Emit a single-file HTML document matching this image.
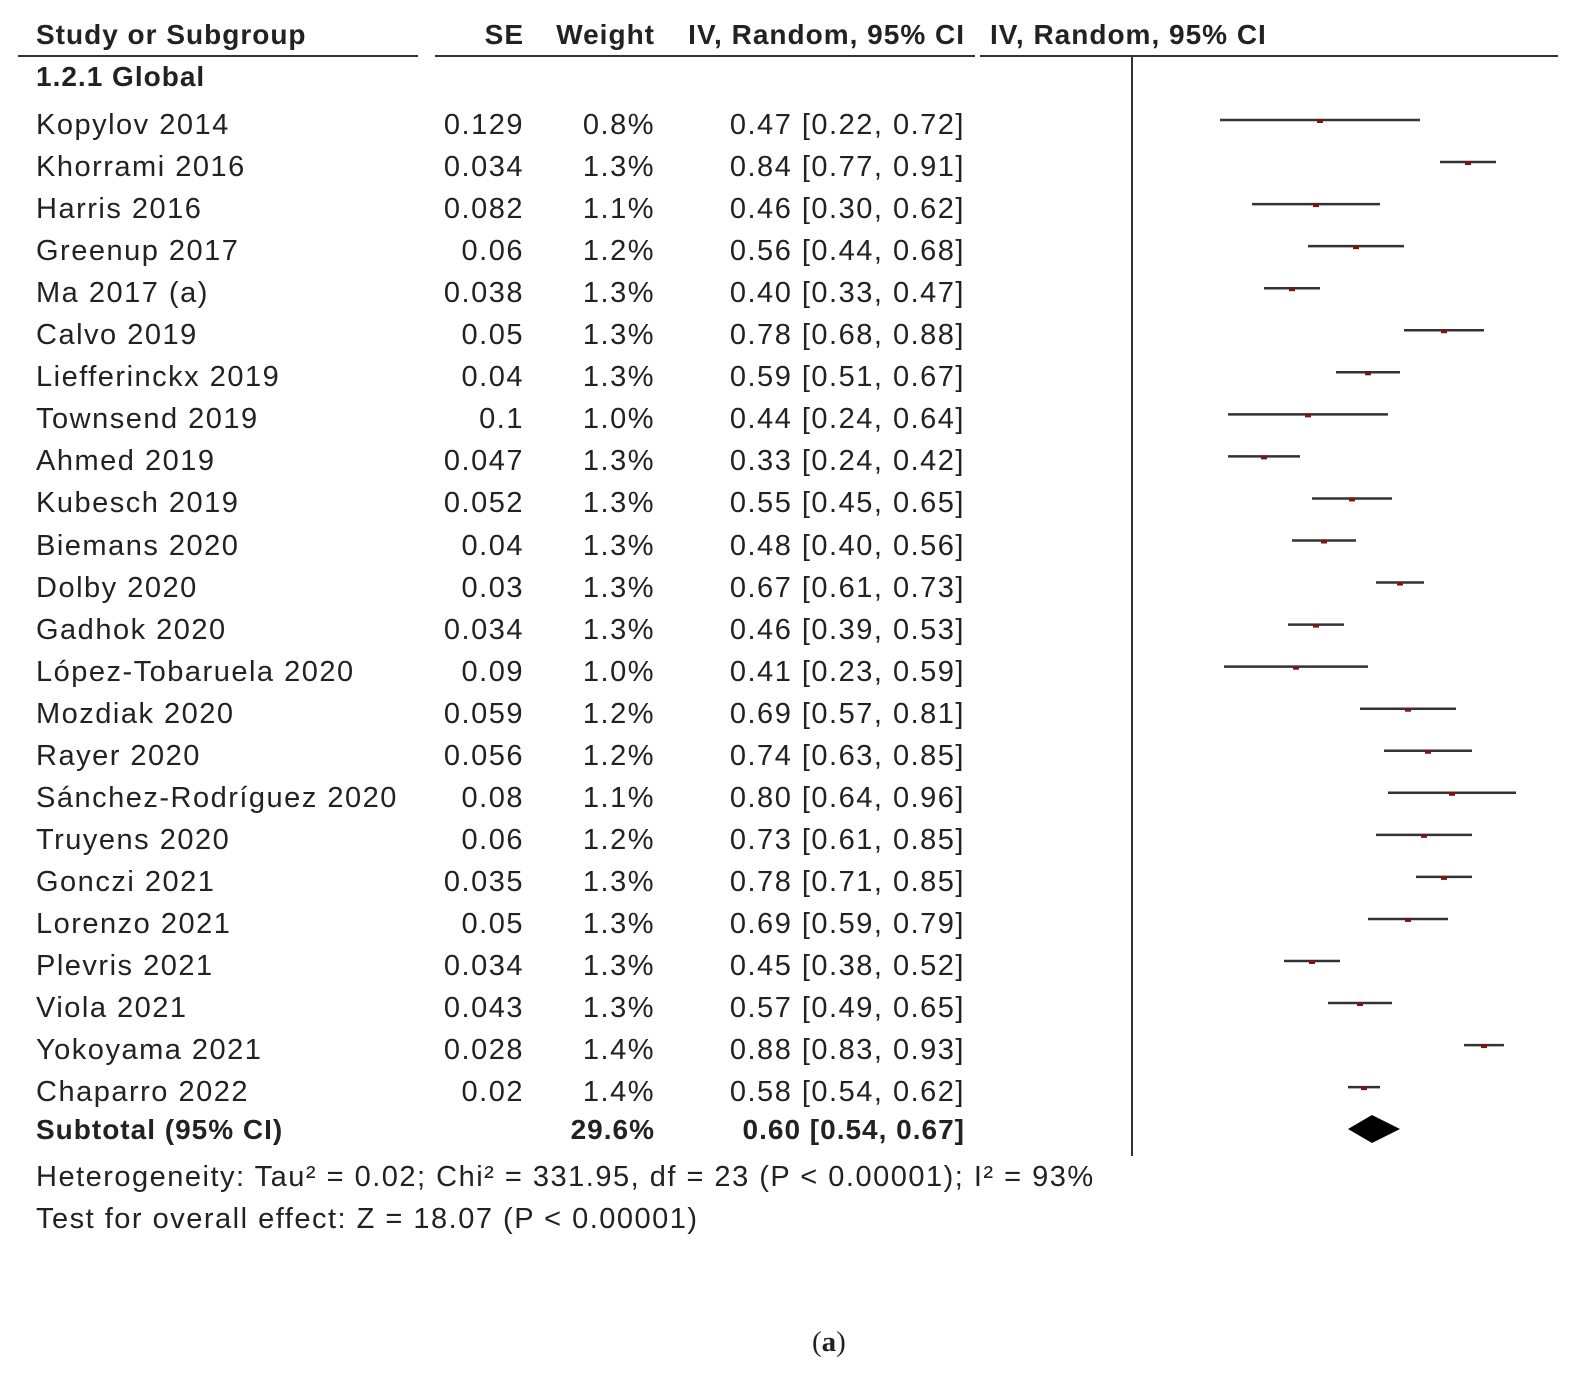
<!DOCTYPE html>
<html><head><meta charset="utf-8"><style>
body{margin:0;background:#fff;}
#wrap{position:relative;width:1586px;height:1386px;font-family:"Liberation Sans",Arial,sans-serif;color:#222;font-size:29px;letter-spacing:1.5px;}
.t{position:absolute;white-space:nowrap;line-height:32px;}
.b{font-weight:bold;font-size:28px;letter-spacing:1px;}
.r{text-align:right;}
</style></head><body>
<div id="wrap">
<svg id="plot" width="1586" height="1386" style="position:absolute;left:0;top:0"></svg>
<div class="t b" style="left:36px;top:19px">Study or Subgroup</div>
<div class="t b r" style="left:424px;width:100px;top:19px">SE</div>
<div class="t b r" style="left:535px;width:120px;top:19px">Weight</div>
<div class="t b r" style="left:615px;width:350px;top:19px">IV, Random, 95% CI</div>
<div class="t b" style="left:990px;top:19px">IV, Random, 95% CI</div>
<div class="t b" style="left:36px;top:61px">1.2.1 Global</div>
<div id="rows"></div>
<div class="t b" style="left:36px;top:1114px">Subtotal (95% CI)</div>
<div class="t b r" style="left:535px;width:120px;top:1114px">29.6%</div>
<div class="t b r" style="left:615px;width:350px;top:1114px">0.60 [0.54, 0.67]</div>
<div class="t" style="left:36px;top:1161px">Heterogeneity: Tau² = 0.02; Chi² = 331.95, df = 23 (P &lt; 0.00001); I² = 93%</div>
<div class="t" style="left:36px;top:1203px">Test for overall effect: Z = 18.07 (P &lt; 0.00001)</div>
<div class="t" style="left:812px;top:1326px;font-family:'Liberation Serif',serif;letter-spacing:0;">(<b>a</b>)</div>
</div>
<script>
const studies=["Kopylov 2014","Khorrami 2016","Harris 2016","Greenup 2017","Ma 2017 (a)","Calvo 2019","Liefferinckx 2019","Townsend 2019","Ahmed 2019","Kubesch 2019","Biemans 2020","Dolby 2020","Gadhok 2020","López-Tobaruela 2020","Mozdiak 2020","Rayer 2020","Sánchez-Rodríguez 2020","Truyens 2020","Gonczi 2021","Lorenzo 2021","Plevris 2021","Viola 2021","Yokoyama 2021","Chaparro 2022"];
const se=["0.129","0.034","0.082","0.06","0.038","0.05","0.04","0.1","0.047","0.052","0.04","0.03","0.034","0.09","0.059","0.056","0.08","0.06","0.035","0.05","0.034","0.043","0.028","0.02"];
const weight=["0.8%","1.3%","1.1%","1.2%","1.3%","1.3%","1.3%","1.0%","1.3%","1.3%","1.3%","1.3%","1.3%","1.0%","1.2%","1.2%","1.1%","1.2%","1.3%","1.3%","1.3%","1.3%","1.4%","1.4%"];
const est=[0.47,0.84,0.46,0.56,0.40,0.78,0.59,0.44,0.33,0.55,0.48,0.67,0.46,0.41,0.69,0.74,0.80,0.73,0.78,0.69,0.45,0.57,0.88,0.58];
const lo=[0.22,0.77,0.30,0.44,0.33,0.68,0.51,0.24,0.24,0.45,0.40,0.61,0.39,0.23,0.57,0.63,0.64,0.61,0.71,0.59,0.38,0.49,0.83,0.54];
const hi=[0.72,0.91,0.62,0.68,0.47,0.88,0.67,0.64,0.42,0.65,0.56,0.73,0.53,0.59,0.81,0.85,0.96,0.85,0.85,0.79,0.52,0.65,0.93,0.62];
const subtotal=[0.60,0.54,0.67];
const X=v=>1132+v*400;
const Y=i=>120+i*42.05;
const svg=document.getElementById('plot');
const NS='http://www.w3.org/2000/svg';
function mk(tag,attrs){const e=document.createElementNS(NS,tag);for(const k in attrs)e.setAttribute(k,attrs[k]);svg.appendChild(e);return e;}
let l;
l=mk('line',{x1:18,x2:418,y1:56,y2:56,stroke:'#333','stroke-width':2});

l=mk('line',{x1:435,x2:975,y1:56,y2:56,stroke:'#333','stroke-width':2});

l=mk('line',{x1:980,x2:1558,y1:56,y2:56,stroke:'#333','stroke-width':2});

l=mk('line',{x1:X(0),x2:X(0),y1:56,y2:1156,stroke:'#333','stroke-width':2});

const rows=document.getElementById('rows');
const fmt=v=>v.toFixed(2);
studies.forEach((s,i)=>{
  const g=mk('g',{});
  
  
  const ln=document.createElementNS(NS,'line');
  ln.setAttribute('x1',X(lo[i]));ln.setAttribute('x2',X(hi[i]));ln.setAttribute('y1',Y(i));ln.setAttribute('y2',Y(i));
  ln.setAttribute('stroke','#333');ln.setAttribute('stroke-width','2.5');
  g.appendChild(ln);
  const r=document.createElementNS(NS,'rect');
  r.setAttribute('x',X(est[i])-3);r.setAttribute('y',Y(i)-1);r.setAttribute('width',6);r.setAttribute('height',4);r.setAttribute('fill','#7a1515');
  g.appendChild(r);
  const ty=Y(i)-11;
  const cells=[[36,null,s,'study-name'],[404,120,se[i],'study-se'],[535,120,weight[i],'study-weight'],[615,350,fmt(est[i])+' ['+fmt(lo[i])+', '+fmt(hi[i])+']','study-ci-text']];
  cells.forEach(c=>{
    const d=document.createElement('div');
    d.className='t'+(c[1]?' r':'');
    d.style.left=c[0]+'px';d.style.top=ty+'px';
    if(c[1])d.style.width=c[1]+'px';
    d.textContent=c[2];
    
    
    rows.appendChild(d);
  });
});
const dy=1129;
const dm=mk('polygon',{points:`${X(subtotal[1])},${dy} ${X(subtotal[0])},${dy-14} ${X(subtotal[2])},${dy} ${X(subtotal[0])},${dy+14}`,fill:'#000'});


</script>
</body></html>
